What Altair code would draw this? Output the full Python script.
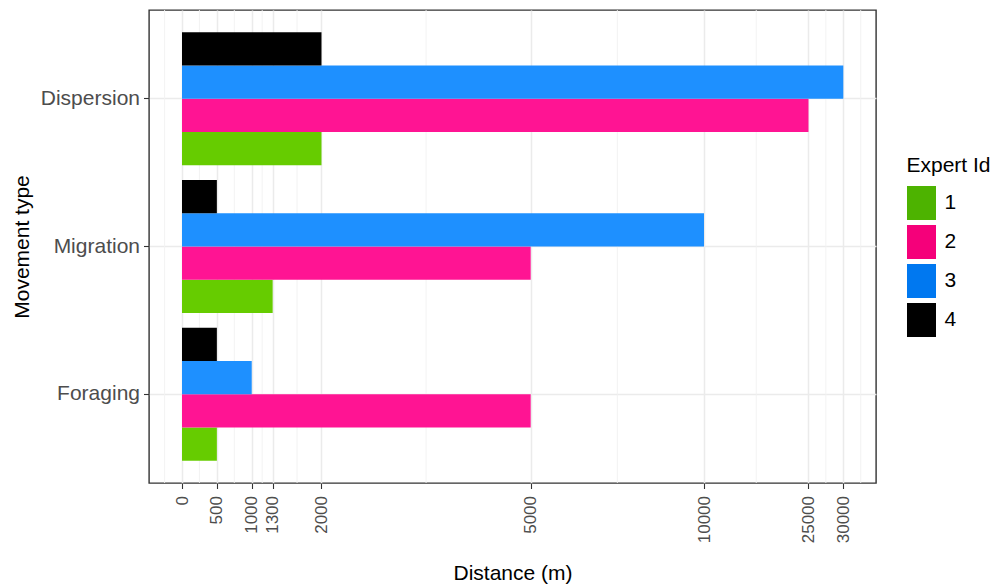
import altair as alt
import pandas as pd

# ---- data ----
movements = ["Dispersion", "Migration", "Foraging"]
experts = ["1", "2", "3", "4"]
dispersion = [2000, 25000, 30000, 2000]
migration = [1300, 5000, 10000, 500]
foraging = [500, 5000, 1000, 500]

x_ticks = [0, 500, 1000, 1300, 2000, 5000, 10000, 25000, 30000]
minor_breaks = [-250, 250, 750, 1150, 1650, 3500, 7500, 17500, 27500, 32500]

bar_colors = ["#66CC00", "#FF1493", "#1E90FF", "#000000"]
legend_colors = ["#4DB300", "#F5007A", "#0078F0", "#000000"]

rows = []
for m, vals in zip(movements, [dispersion, migration, foraging]):
    for e, v in zip(experts, vals):
        rows.append({"movement": m, "expert": e, "distance": v})
df = pd.DataFrame(rows)
minor_df = pd.DataFrame({"distance": minor_breaks})

FONT = "Liberation Sans"

# piecewise-linear x scale (the reference axis is segmented)
x_scale = alt.Scale(
    type="linear",
    domain=[-473.2, 0, 5000, 10000, 30000, 34695],
    range=[0, 33, 381.7, 555, 694.3, 727],
    nice=False,
    zero=False,
)
x_axis = alt.Axis(
    values=x_ticks,
    labelAngle=270,
    labelFontSize=17,
    labelPadding=7,
    titlePadding=20,
    format="d",
)
x_enc = alt.X("distance:Q", scale=x_scale, axis=x_axis, title="Distance (m)")

y_enc = alt.Y(
    "movement:N",
    sort=movements,
    title="Movement type",
    scale=alt.Scale(paddingInner=0.1, paddingOuter=0.15),
    axis=alt.Axis(labelFontSize=21, labelPadding=4, titlePadding=8),
)
yoff_enc = alt.YOffset(
    "expert:N", sort=experts[::-1], scale=alt.Scale(paddingInner=0, paddingOuter=0)
)

minor = alt.Chart(minor_df).mark_rule(color="#F2F2F2", strokeWidth=0.9).encode(x=x_enc)

bars = alt.Chart(df).mark_bar().encode(
    x=x_enc,
    y=y_enc,
    yOffset=yoff_enc,
    color=alt.Color(
        "expert:N", scale=alt.Scale(domain=experts, range=bar_colors), legend=None
    ),
)

legend_layer = alt.Chart(df).mark_bar(opacity=0).encode(
    x=x_enc,
    y=y_enc,
    yOffset=yoff_enc,
    color=alt.Color(
        "expert:N",
        scale=alt.Scale(domain=experts, range=legend_colors),
        title="Expert Id",
        legend=alt.Legend(
            orient="none",
            legendX=757.5,
            legendY=145,
            symbolType="M-0.853,-1L0.853,-1L0.853,1L-0.853,1Z",
            symbolSize=1156,
            symbolOpacity=1,
            symbolStrokeWidth=0,
            symbolOffset=-2,
            labelFontSize=21,
            labelColor="#000000",
            labelOffset=6,
            rowPadding=5,
            titleFontSize=21,
            titleFontWeight="normal",
            titleColor="#000000",
            titlePadding=10,
            padding=0,
        ),
    ),
)

chart = (
    alt.layer(minor, bars, legend_layer)
    .resolve_scale(color="independent")
    .properties(
        width=727,
        height=473,
        autosize=alt.AutoSizeParams(type="none"),
        padding={"left": 141, "top": 2, "right": 114, "bottom": 102},
    )
    .configure(font=FONT)
    .configure_view(stroke="#333333", strokeWidth=1.4)
    .configure_axis(
        domain=False,
        grid=True,
        gridColor="#EBEBEB",
        gridWidth=1.5,
        tickColor="#333333",
        tickWidth=1.1,
        tickSize=5.5,
        labelColor="#4D4D4D",
        labelFont=FONT,
        titleFont=FONT,
        titleFontSize=21,
        titleFontWeight="normal",
        titleColor="#000000",
    )
    .configure_legend(labelFont=FONT, titleFont=FONT)
)

chart.save("out.html", embed_options={"renderer": "svg", "actions": False})
